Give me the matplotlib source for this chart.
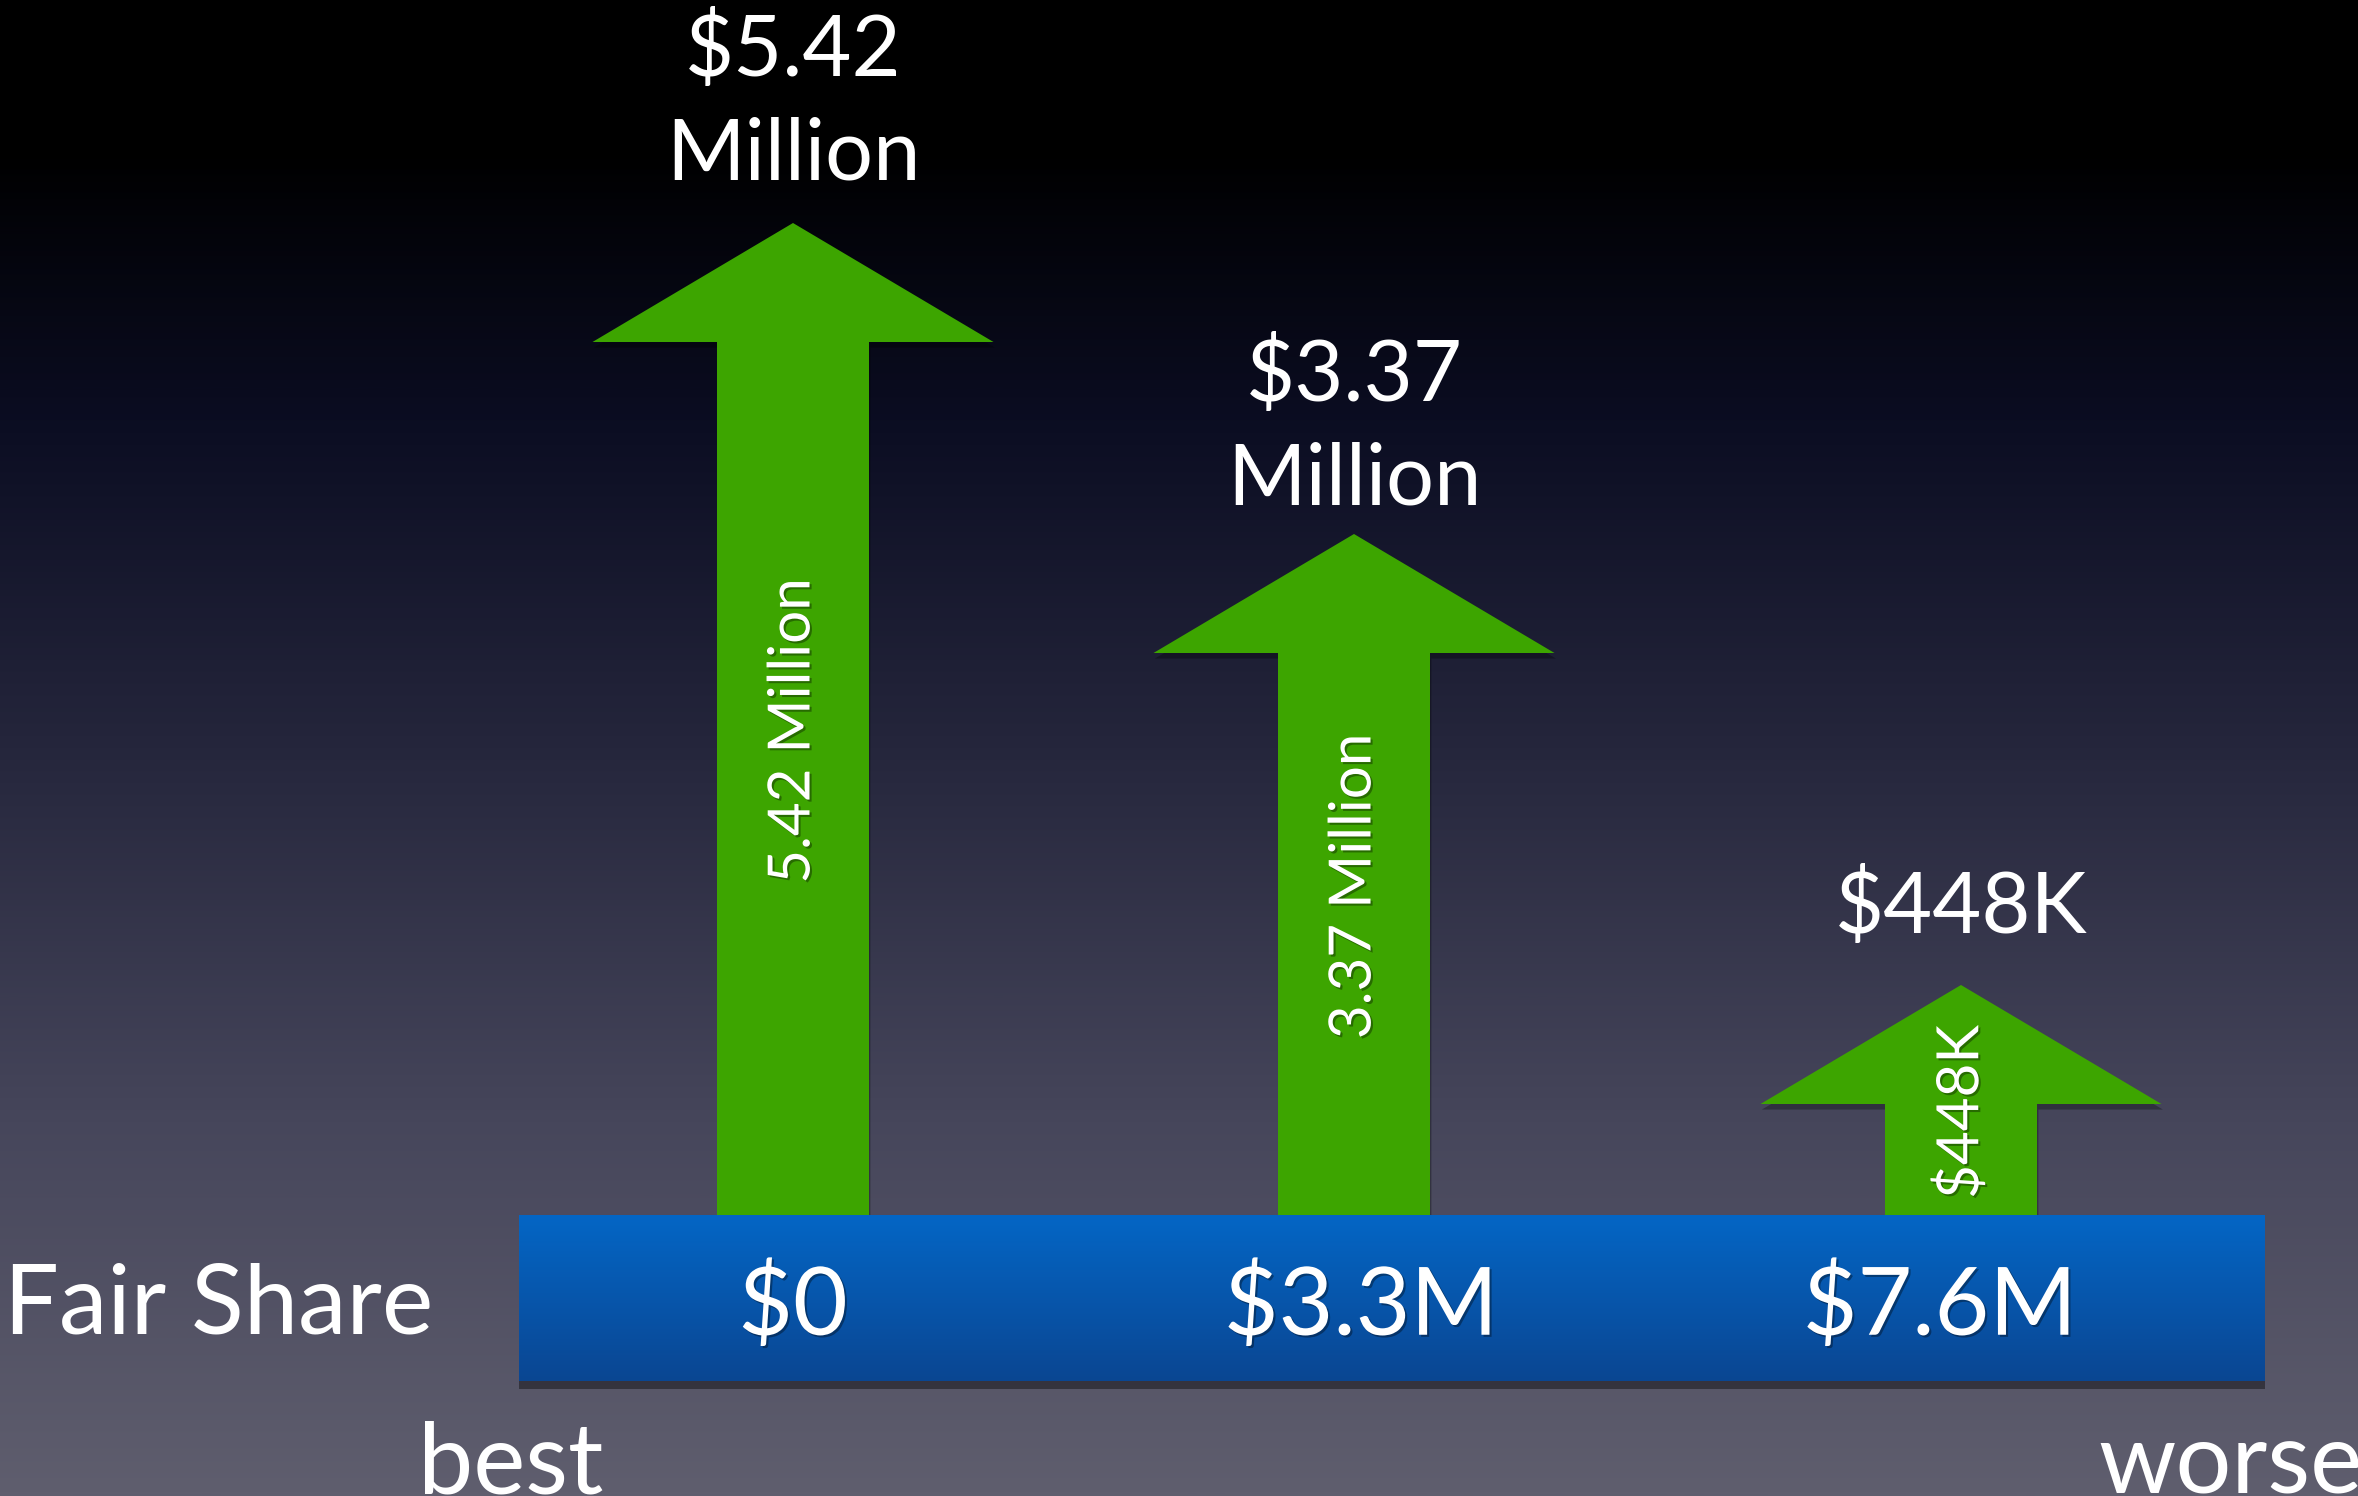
import numpy as np
import matplotlib
matplotlib.use('Agg')
import matplotlib.pyplot as plt
import matplotlib.patheffects as pe
from matplotlib.patches import FancyArrow, Rectangle
from matplotlib.colors import LinearSegmentedColormap

# data
fair_share = ['$0', '$3.3M', '$7.6M']
top_labels = ['$5.42\nMillion', '$3.37\nMillion', '$448K']
inner_labels = ['5.42 Million', '3.37 Million', '$448K']
arrow_heights = [992, 681, 230]   # drawn height above the bar (slide units, not to scale)

W, H = 2358, 1496
plt.rcParams['font.family'] = ['Lato', 'DejaVu Sans']

fig = plt.figure(figsize=(W / 100, H / 100), dpi=100)
ax = fig.add_axes([0, 0, 1, 1])

# background gradient, black on top to grey-purple at the bottom
bg_cmap = LinearSegmentedColormap.from_list('bg', [
    (0.0, '#5f5e6e'), (0.25, '#46465b'), (0.5, '#25263c'),
    (0.72, '#0b0d22'), (0.9, '#000000'), (1.0, '#000000')])
grad = np.linspace(0, 1, 512)[:, None]
ax.imshow(grad, cmap=bg_cmap, extent=[0, W, 0, H], origin='lower', aspect='auto', zorder=0)

bar_left, bar_right = 519, 2265
bar_bottom, bar_top = 115, 281
x_pos = [793, 1354, 1961]
label_x = [793, 1361, 1940]
top_gap = [44, 30, 52]

shadow = [pe.SimplePatchShadow(offset=(1, -4), shadow_rgbFace='black', alpha=0.3), pe.Normal()]
txt_shadow = [pe.withSimplePatchShadow(offset=(1.5, -1.5), shadow_rgbFace='black', alpha=0.35)]

# arrows
for x, h in zip(x_pos, arrow_heights):
    arr = FancyArrow(x, bar_top - 5, 0, h + 5, width=152, head_width=401, head_length=119,
                     length_includes_head=True, color='#3da500', lw=0, zorder=2)
    arr.set_path_effects(shadow)
    ax.add_patch(arr)

# blue fair-share bar with vertical gradient
sh = Rectangle((bar_left, bar_bottom), bar_right - bar_left, bar_top - bar_bottom,
               color='#0a4693', zorder=3)
sh.set_path_effects([pe.SimplePatchShadow(offset=(0, -6), shadow_rgbFace='black', alpha=0.4)])
ax.add_patch(sh)
blue = LinearSegmentedColormap.from_list('blue', ['#0a4692', '#0466c5'])
ax.imshow(grad, cmap=blue, extent=[bar_left, bar_right, bar_bottom, bar_top],
          origin='lower', aspect='auto', zorder=4)
ax.set_xlim(0, W)
ax.set_ylim(0, H)
ax.axis('off')

mid = (bar_top + bar_bottom) / 2 - 9
for x, lab in zip(label_x, fair_share):
    ax.text(x, mid, lab, color='white', fontsize=68,
            ha='center', va='center', zorder=5, path_effects=txt_shadow)

ax.text(4, mid, 'Fair Share', color='white', fontsize=70,
        ha='left', va='center', zorder=5)
ax.text(418, 3, 'best', color='white', fontsize=71, ha='left', va='baseline', zorder=5)
ax.text(W + 4, 3, 'worse', color='white', fontsize=71, ha='right', va='baseline', zorder=5)

for x, h, gap, lab, inner in zip(x_pos, arrow_heights, top_gap, top_labels, inner_labels):
    tip = bar_top + h
    ax.text(x, tip + gap, lab, color='white', fontsize=61, ha='center', va='baseline',
            linespacing=1.4, zorder=5)
    ax.text(x, bar_top + h / 2 - 12, inner, color='white', fontsize=42, rotation=90,
            ha='center', va='center', zorder=5, path_effects=txt_shadow)

fig.savefig('out.png', dpi=100)
